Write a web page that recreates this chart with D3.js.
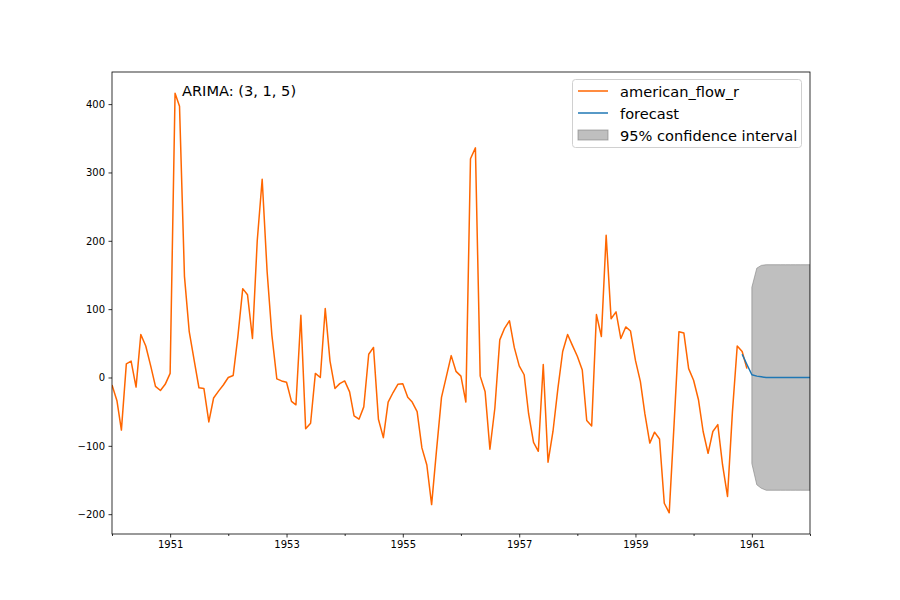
<!DOCTYPE html>
<html><head><meta charset="utf-8">
<script src="https://cdn.jsdelivr.net/npm/d3@7"></script>
<style>
html,body{margin:0;padding:0;background:#fff;}
svg{display:block;font-family:"DejaVu Sans",sans-serif;}
</style></head>
<body>
<svg id="chart" width="900" height="600"></svg>
<script>
// ---- data ----
const seriesStart = "1950-01";           // first month of observed series
const observed = [
 -11,-34,-77,20,24,-14,63,46,17,-13,-19,-10,
 6,416,397,148,67,25,-15,-16,-65,-30,-20,-11,
 0,3,59,130,121,57,200,290,155,62,-2,-5,
 -7,-35,-40,91,-75,-67,6,0,101,24,-16,-9,
 -5,-21,-56,-61,-43,34,44,-61,-88,-36,-22,-10,
 -9,-29,-36,-50,-103,-128,-186,-106,-29,1,32,9,
 2,-36,320,336,2,-21,-105,-45,55,72,83,44,
 17,4,-53,-95,-108,19,-124,-79,-16,38,63,47,
 31,11,-63,-71,92,60,208,86,96,57,74,68,
 25,-6,-53,-96,-80,-90,-184,-198,-66,67,65,13,
 -4,-33,-79,-111,-79,-69,-128,-174,-50,46,38,13
];
const forecastStart = "1960-11";
const forecast = [34,19,4,2,1,0,0,0,0,0,0,0,0,0,0];
const ciStart = "1961-01";
const ciUpper = [132,160,164,165,165,165,165,165,165,165,165,165,165];
const ciLower = [-126,-157,-162,-165,-165,-165,-165,-165,-165,-165,-165,-165,-165];
const yTicks = [-200,-100,0,100,200,300,400];
const xMajorYears = [1951,1953,1955,1957,1959,1961];
const xMinorYears = [1950,1952,1954,1956,1958,1960,1962];
const legendLabels = ["american_flow_r","forecast","95% confidence interval"];
const titleText = "ARIMA: (3, 1, 5)";

// ---- layout ----
const M = {left:112, right:810, top:72, bottom:534};
const parseM = d3.timeParse("%Y-%m");
const monthly = (start, arr) => arr.map((v,i)=>({date:d3.timeMonth.offset(parseM(start), i), v}));
const obsData = monthly(seriesStart, observed);
const fcData = monthly(forecastStart, forecast);
const ciData = ciUpper.map((u,i)=>({date:d3.timeMonth.offset(parseM(ciStart), i), u, l:ciLower[i]}));

const x = d3.scaleTime().domain([new Date(1950,0,1), new Date(1962,0,1)]).range([M.left, M.right]);
const y = d3.scaleLinear().domain([-229, 447]).range([M.bottom, M.top]);

const svg = d3.select("#chart");
svg.append("rect").attr("width",900).attr("height",600).attr("fill","#fff");

const clip = svg.append("clipPath").attr("id","clip").append("rect")
  .attr("x",M.left).attr("y",M.top).attr("width",M.right-M.left).attr("height",M.bottom-M.top);
const plot = svg.append("g").attr("clip-path","url(#clip)");

// CI
plot.append("path").datum(ciData)
  .attr("d", d3.area().x(d=>x(d.date)).y0(d=>y(d.l)).y1(d=>y(d.u)).curve(d3.curveLinear))
  .attr("fill","#808080").attr("fill-opacity",0.5)
  .attr("stroke","#808080").attr("stroke-opacity",0.6).attr("stroke-width",1);

// observed
plot.append("path").datum(obsData)
  .attr("d", d3.line().x(d=>x(d.date)).y(d=>y(d.v)))
  .attr("fill","none").attr("stroke","#ff6600").attr("stroke-width",1.5).attr("stroke-linejoin","round");

// forecast
plot.append("path").datum(fcData)
  .attr("d", d3.line().x(d=>x(d.date)).y(d=>y(d.v)))
  .attr("fill","none").attr("stroke","#1f77b4").attr("stroke-width",1.5).attr("stroke-linejoin","round");

// axes
const fmtY = d => d < 0 ? "\u2212" + Math.abs(d) : String(d);
const yAxis = d3.axisLeft(y).tickValues(yTicks).tickFormat(fmtY).tickSize(3.5).tickPadding(3.5);
const gy = svg.append("g").attr("transform",`translate(${M.left},0)`).call(yAxis);
const xAxis = d3.axisBottom(x).tickValues(xMajorYears.map(yr=>new Date(yr,0,1)))
  .tickFormat(d3.timeFormat("%Y")).tickSize(3.5).tickPadding(3.5);
const gx = svg.append("g").attr("transform",`translate(0,${M.bottom})`).call(xAxis);
const xMinor = d3.axisBottom(x).tickValues(xMinorYears.map(yr=>new Date(yr,0,1))).tickFormat("").tickSize(2);
const gxm = svg.append("g").attr("transform",`translate(0,${M.bottom})`).call(xMinor);
[gx,gy,gxm].forEach(g=>{
  g.select(".domain").remove();
  g.selectAll("line").attr("stroke","#000").attr("stroke-width",0.8);
  g.selectAll("text").attr("font-size",10).attr("fill","#000").attr("font-family","DejaVu Sans");
});

// frame
svg.append("rect").attr("x",M.left).attr("y",M.top).attr("width",M.right-M.left).attr("height",M.bottom-M.top)
  .attr("fill","none").attr("stroke","#000").attr("stroke-width",0.8);

// title text inside axes
svg.append("text").attr("x",182).attr("y",96).attr("font-size",14.6).attr("fill","#000").text(titleText);

// legend
const lg = svg.append("g");
lg.append("rect").attr("x",572.5).attr("y",79.5).attr("width",229).attr("height",68).attr("rx",3)
  .attr("fill","#fff").attr("fill-opacity",0.8).attr("stroke","#d0d0d0").attr("stroke-width",1);
const rowsY = [91,113,135];
lg.append("line").attr("x1",578).attr("x2",608).attr("y1",rowsY[0]).attr("y2",rowsY[0]).attr("stroke","#ff6600").attr("stroke-width",1.5);
lg.append("line").attr("x1",578).attr("x2",608).attr("y1",rowsY[1]).attr("y2",rowsY[1]).attr("stroke","#1f77b4").attr("stroke-width",1.5);
lg.append("rect").attr("x",578).attr("y",rowsY[2]-5).attr("width",30).attr("height",10)
  .attr("fill","#808080").attr("fill-opacity",0.5).attr("stroke","#808080").attr("stroke-opacity",0.6);
legendLabels.forEach((t,i)=>{
  lg.append("text").attr("x",620).attr("y",rowsY[i]+5.5).attr("font-size",14.6).attr("fill","#000").text(t);
});
</script>
</body></html>
